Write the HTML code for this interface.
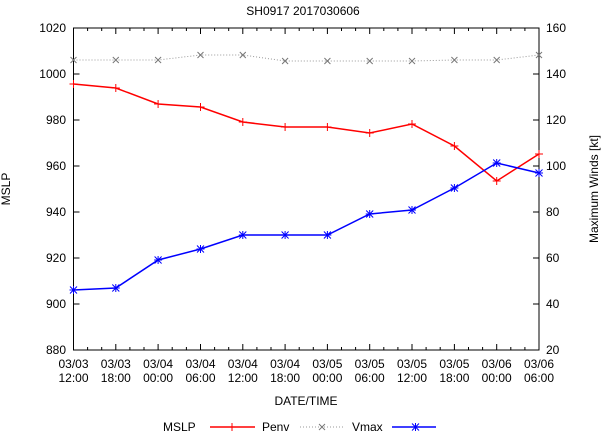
<!DOCTYPE html><html><head><style>body{margin:0;background:#fff}svg{display:block;font-family:"Liberation Sans",sans-serif}</style></head><body>
<svg width="606" height="432" xmlns="http://www.w3.org/2000/svg" xmlns:xlink="http://www.w3.org/1999/xlink">
<defs>
<path id="pr" d="M-4 0h8M0 -4v8" stroke="#f00" stroke-width="1"/>
<path id="pg" d="M-3 -3l6 6M-3 3l6-6" stroke="#777" stroke-width="1"/>
<path id="pb" d="M-3.5 -3.5l7 7M-3.5 3.5l7-7M-4 0h8M0 -4v8" stroke="#00f" stroke-width="1"/>
</defs>
<rect width="606" height="432" fill="#fff"/>
<text x="303" y="15" font-size="12" text-anchor="middle">SH0917 2017030606</text>
<g stroke="#000" stroke-width="1">
<rect x="73.5" y="28" width="465.5" height="322" fill="none"/>
<path d="M73.5 74h6M73.5 120h6M73.5 166h6M73.5 212h6M73.5 258h6M73.5 304h6M539 74h-6M539 120h-6M539 166h-6M539 212h-6M539 258h-6M539 304h-6"/>
<path d="M115.8 350v-6M115.8 28v6M158.1 350v-6M158.1 28v6M200.5 350v-6M200.5 28v6M242.8 350v-6M242.8 28v6M285.1 350v-6M285.1 28v6M327.4 350v-6M327.4 28v6M369.7 350v-6M369.7 28v6M412 350v-6M412 28v6M454.4 350v-6M454.4 28v6M496.7 350v-6M496.7 28v6
M87.6 350v-3M101.7 350v-3M129.9 350v-3M144 350v-3M172.2 350v-3M186.4 350v-3M214.6 350v-3M228.7 350v-3M256.9 350v-3M271 350v-3M299.2 350v-3M313.3 350v-3M341.5 350v-3M355.6 350v-3M383.8 350v-3M397.9 350v-3M426.1 350v-3M440.2 350v-3M468.5 350v-3M482.6 350v-3M510.8 350v-3M524.9 350v-3
M87.6 28v3M101.7 28v3M129.9 28v3M144 28v3M172.2 28v3M186.4 28v3M214.6 28v3M228.7 28v3M256.9 28v3M271 28v3M299.2 28v3M313.3 28v3M341.5 28v3M355.6 28v3M383.8 28v3M397.9 28v3M426.1 28v3M440.2 28v3M468.5 28v3M482.6 28v3M510.8 28v3M524.9 28v3"/>
</g>
<g font-size="12" text-anchor="end">
<text x="66" y="32">1020</text><text x="66" y="78">1000</text><text x="66" y="124">980</text><text x="66" y="170">960</text><text x="66" y="216">940</text><text x="66" y="262">920</text><text x="66" y="308">900</text><text x="66" y="354">880</text>
</g>
<g font-size="12">
<text x="546" y="32">160</text><text x="546" y="78">140</text><text x="546" y="124">120</text><text x="546" y="170">100</text><text x="546" y="216">80</text><text x="546" y="262">60</text><text x="546" y="308">40</text><text x="546" y="354">20</text>
</g>
<text x="10" y="189" font-size="12" transform="rotate(-90 10 189)" text-anchor="middle">MSLP</text>
<text x="598" y="189" font-size="12" transform="rotate(-90 598 189)" text-anchor="middle">Maximum Winds [kt]</text>
<text x="306" y="405" font-size="12" text-anchor="middle">DATE/TIME</text>
<g font-size="12" text-anchor="middle">
<text x="73.5" y="368">03/03</text><text x="73.5" y="382">12:00</text>
<text x="115.8" y="368">03/03</text><text x="115.8" y="382">18:00</text>
<text x="158.1" y="368">03/04</text><text x="158.1" y="382">00:00</text>
<text x="200.5" y="368">03/04</text><text x="200.5" y="382">06:00</text>
<text x="242.8" y="368">03/04</text><text x="242.8" y="382">12:00</text>
<text x="285.1" y="368">03/04</text><text x="285.1" y="382">18:00</text>
<text x="327.4" y="368">03/05</text><text x="327.4" y="382">00:00</text>
<text x="369.7" y="368">03/05</text><text x="369.7" y="382">06:00</text>
<text x="412" y="368">03/05</text><text x="412" y="382">12:00</text>
<text x="454.4" y="368">03/05</text><text x="454.4" y="382">18:00</text>
<text x="496.7" y="368">03/06</text><text x="496.7" y="382">00:00</text>
<text x="539" y="368">03/06</text><text x="539" y="382">06:00</text>
</g>
<polyline fill="none" stroke="#999" stroke-dasharray="1,2" points="73.5,60 115.8,60 158.1,60 200.5,55 242.8,55 285.1,61 327.4,61 369.7,61 412,61 454.4,60 496.7,60 539,55"/>
<polyline fill="none" stroke="#f00" stroke-width="1.5" points="73.5,84 115.8,88 158.1,104 200.5,107 242.8,122 285.1,127 327.4,127 369.7,133 412,124 454.4,146 496.7,181 539,154"/>
<polyline fill="none" stroke="#00f" stroke-width="1.5" points="73.5,290 115.8,288 158.1,260 200.5,249 242.8,235 285.1,235 327.4,235 369.7,214 412,210 454.4,188 496.7,163 539,173"/>
<use xlink:href="#pg" x="73.5" y="60"/><use xlink:href="#pg" x="115.8" y="60"/><use xlink:href="#pg" x="158.1" y="60"/><use xlink:href="#pg" x="200.5" y="55"/><use xlink:href="#pg" x="242.8" y="55"/><use xlink:href="#pg" x="285.1" y="61"/><use xlink:href="#pg" x="327.4" y="61"/><use xlink:href="#pg" x="369.7" y="61"/><use xlink:href="#pg" x="412" y="61"/><use xlink:href="#pg" x="454.4" y="60"/><use xlink:href="#pg" x="496.7" y="60"/><use xlink:href="#pg" x="539" y="55"/>
<use xlink:href="#pr" x="73.5" y="84"/><use xlink:href="#pr" x="115.8" y="88"/><use xlink:href="#pr" x="158.1" y="104"/><use xlink:href="#pr" x="200.5" y="107"/><use xlink:href="#pr" x="242.8" y="122"/><use xlink:href="#pr" x="285.1" y="127"/><use xlink:href="#pr" x="327.4" y="127"/><use xlink:href="#pr" x="369.7" y="133"/><use xlink:href="#pr" x="412" y="124"/><use xlink:href="#pr" x="454.4" y="146"/><use xlink:href="#pr" x="496.7" y="181"/><use xlink:href="#pr" x="539" y="154"/>
<use xlink:href="#pb" x="73.5" y="290"/><use xlink:href="#pb" x="115.8" y="288"/><use xlink:href="#pb" x="158.1" y="260"/><use xlink:href="#pb" x="200.5" y="249"/><use xlink:href="#pb" x="242.8" y="235"/><use xlink:href="#pb" x="285.1" y="235"/><use xlink:href="#pb" x="327.4" y="235"/><use xlink:href="#pb" x="369.7" y="214"/><use xlink:href="#pb" x="412" y="210"/><use xlink:href="#pb" x="454.4" y="188"/><use xlink:href="#pb" x="496.7" y="163"/><use xlink:href="#pb" x="539" y="173"/>
<g font-size="12">
<text x="163" y="431">MSLP</text>
<line x1="210" y1="427" x2="255" y2="427" stroke="#f00" stroke-width="1.5"/>
<use xlink:href="#pr" x="232" y="427"/>
<text x="262" y="431">Penv</text>
<line x1="300" y1="427" x2="345" y2="427" stroke="#999" stroke-dasharray="1,2"/>
<use xlink:href="#pg" x="322" y="427"/>
<text x="352" y="431">Vmax</text>
<line x1="392" y1="427" x2="436" y2="427" stroke="#00f" stroke-width="1.5"/>
<use xlink:href="#pb" x="415.5" y="427"/>
</g>
</svg>
</body></html>
